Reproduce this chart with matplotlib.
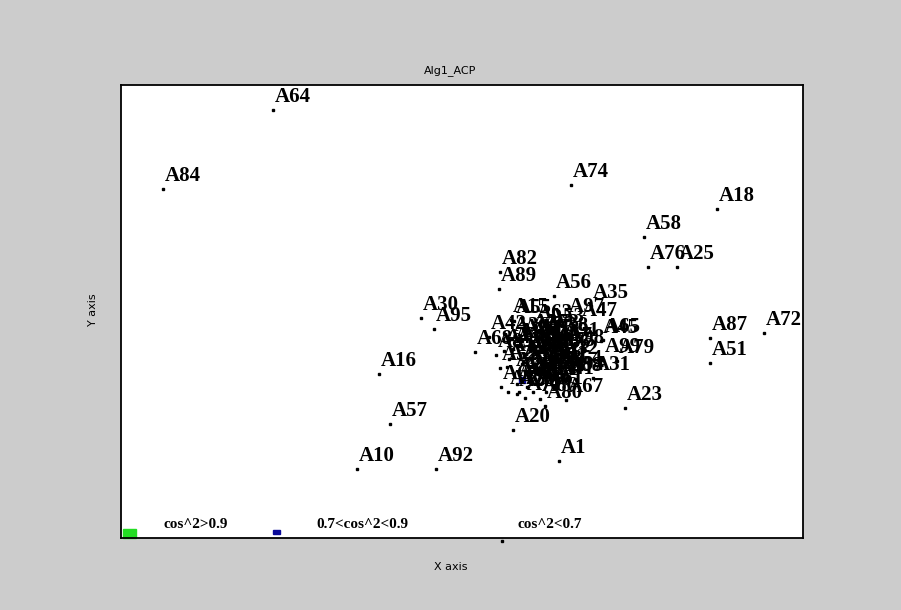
import numpy as np
import matplotlib.pyplot as plt
from matplotlib.patches import Rectangle

# Projection of the individuals on the first factorial plane
names = ['A64', 'A84', 'A74', 'A18', 'A58', 'A76', 'A25', 'A82', 'A89', 'A56',
         'A35', 'A30', 'A95', 'A15', 'A55', 'A97', 'A47', 'A42', 'A68', 'A16',
         'A57', 'A10', 'A92', 'A20', 'A1', 'A23', 'A67', 'A80', 'A28', 'A31',
         'A94', 'A79', 'A45', 'A65', 'A99', 'A87', 'A51', 'A72',
         'A2', 'A3', 'A4', 'A6', 'A7', 'A8', 'A9', 'A11', 'A12', 'A13',
         'A14', 'A17', 'A19', 'A21', 'A22', 'A24', 'A26', 'A27', 'A29', 'A32',
         'A33', 'A34', 'A36', 'A37', 'A38', 'A39', 'A40', 'A41', 'A43', 'A44',
         'A46', 'A48', 'A49', 'A50', 'A52', 'A53', 'A54', 'A59', 'A60', 'A61',
         'A62', 'A63', 'A66', 'A69', 'A70', 'A71', 'A73', 'A75', 'A77', 'A78',
         'A81', 'A83', 'A85', 'A86', 'A88', 'A90', 'A91', 'A93', 'A96', 'A98']
x = [-2.47, -3.57, 0.51, 1.97, 1.24, 1.28, 1.57, -0.20, -0.21, 0.34,
     0.71, -0.99, -0.86, -0.09, -0.06, 0.47, 0.60, -0.31, -0.45, -1.41,
     -1.30, -1.63, -0.84, -0.07, 0.39, 1.05, 0.46, 0.25, -0.03, 0.73,
     0.47, 0.97, 0.81, 0.83, 0.83, 1.90, 1.90, 2.44,
     0.03, 0.20, 0.10, -0.06, 0.25, 0.15, -0.03, 0.32, 0.07, 0.17,
     -0.11, 0.35, 0.12, 0.22, 0.01, 0.28, 0.11, -0.13, 0.05, 0.41,
     0.16, 0.21, -0.08, 0.08, 0.31, -0.01, 0.13, 0.37, -0.16, 0.02,
     0.23, 0.18, 0.02, 0.12, -0.20, 0.27, 0.45, -0.07, 0.10, 0.26,
     -0.03, 0.15, 0.33, -0.19, 0.17, 0.05, 0.22, 0.38, -0.12, 0.07,
     0.30, 0.10, -0.24, 0.20, 0.45, 0.02, 0.42, 0.25, 0.13, 0.47]
y = [2.50, 1.71, 1.75, 1.51, 1.23, 0.93, 0.93, 0.88, 0.71, 0.64,
     0.54, 0.42, 0.31, 0.40, 0.39, 0.40, 0.36, 0.23, 0.08, -0.14,
     -0.64, -1.09, -1.09, -0.70, -1.01, -0.48, -0.40, -0.46, -0.34, -0.18,
     -0.18, -0.01, 0.19, 0.20, 0.00, 0.22, -0.03, 0.27,
     -0.02, -0.10, 0.09, -0.14, 0.04, -0.19, 0.15, -0.07, -0.27, 0.19,
     0.01, 0.11, 0.00, -0.23, -0.19, -0.17, 0.24, -0.07, 0.06, -0.02,
     0.06, -0.04, 0.21, -0.12, 0.21, -0.32, -0.32, -0.22, 0.09, -0.20,
     0.12, -0.14, -0.04, -0.07, -0.08, 0.30, -0.12, 0.11, 0.14, -0.32,
     -0.24, 0.34, 0.04, -0.27, -0.24, -0.38, 0.24, 0.06, -0.32, 0.01,
     -0.09, -0.17, 0.05, -0.39, -0.19, 0.19, 0.16, -0.12, 0.10, 0.09]
# quality of representation: 0 -> cos^2<0.7, 1 -> 0.7<cos^2<0.9, 2 -> cos^2>0.9
quality = [0] * len(names)
quality[names.index('A44')] = 1

legend_labels = ['cos^2>0.9', '0.7<cos^2<0.9', 'cos^2<0.7']
colors = {0: 'black', 1: '#0a0a9a', 2: '#22dd22'}

fig = plt.figure(figsize=(9.01, 6.10), dpi=100, facecolor='#cccccc')
ax = fig.add_axes([0.1343, 0.118, 0.757, 0.7426])
ax.set_facecolor('white')

serif = dict(family='Liberation Serif', weight='bold')

for n, xi, yi, q in zip(names, x, y, quality):
    if q == 1:
        ax.plot(xi, yi, 's', color=colors[q], markersize=4.5)
    else:
        ax.plot(xi, yi, 's', color=colors[q], markersize=1.8)
    ax.annotate(n, (xi, yi), xytext=(1.5, 5.5), textcoords='offset points',
                fontsize=15, va='baseline', ha='left', **serif)

ax.set_xlim(-3.99, 2.83)
ax.set_ylim(-1.78, 2.75)
ax.set_xticks([])
ax.set_yticks([])
for s in ax.spines.values():
    s.set_linewidth(1.3)

# legend drawn inside the frame, along the bottom edge
ax.add_patch(Rectangle((0.003, 0.0), 0.019, 0.02, transform=ax.transAxes,
                       color=colors[2], clip_on=False))
ax.add_patch(Rectangle((0.223, 0.009), 0.01, 0.009, transform=ax.transAxes,
                       color=colors[1], clip_on=False))
ax.plot([0.559], [-0.007], 's', color='black', markersize=1.8,
        transform=ax.transAxes, clip_on=False)
for lx, lab in zip([0.0616, 0.286, 0.582], legend_labels):
    ax.text(lx, 0.022, lab, transform=ax.transAxes, fontsize=11,
            va='baseline', ha='left', **serif)

fig.text(0.5, 0.885, 'Alg1_ACP', ha='center', va='center', fontsize=8,
         family='DejaVu Sans')
fig.text(0.5, 0.0705, 'X axis', ha='center', va='center', fontsize=8)
fig.text(0.103, 0.492, 'Y axis', ha='center', va='center', fontsize=8,
         rotation=90)

fig.savefig('out.png', dpi=100, facecolor=fig.get_facecolor())
